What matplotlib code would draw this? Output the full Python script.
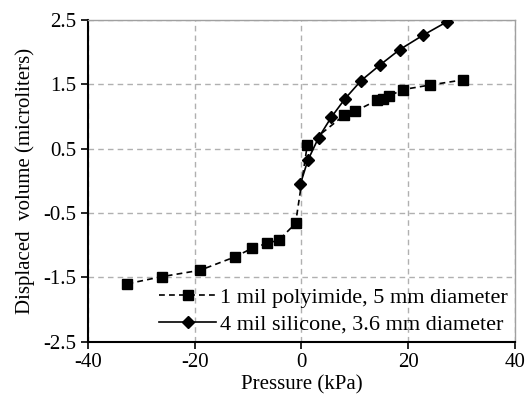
import matplotlib
matplotlib.use("Agg")
import matplotlib.pyplot as plt

# ── data ─────────────────────────────────────────────────────
poly_p = [-32.6, -26.2, -19.0, -12.4, -9.3, -6.4, -4.2, -1.1,
          1.1, 8.0, 10.0, 14.1, 15.2, 16.4, 19.1, 24.1, 30.3]
poly_v = [-1.60, -1.49, -1.39, -1.18, -1.05, -0.97, -0.92, -0.66,
          0.56, 1.02, 1.08, 1.25, 1.28, 1.32, 1.42, 1.49, 1.57]

sil_p = [-0.2, 1.2, 3.2, 5.6, 8.2, 11.2, 14.7, 18.4, 22.7, 27.2]
sil_v = [-0.05, 0.32, 0.67, 0.99, 1.28, 1.56, 1.80, 2.04, 2.26, 2.47]

poly_label = "1 mil polyimide, 5 mm diameter"
sil_label = "4 mil silicone, 3.6 mm diameter"

x_ticks = [-40, -20, 0, 20, 40]
y_ticks = [-2.5, -1.5, -0.5, 0.5, 1.5, 2.5]

plt.rcParams["font.family"] = ["Liberation Serif", "DejaVu Serif"]
plt.rcParams["axes.unicode_minus"] = False

fig = plt.figure(figsize=(5.27, 4.01), dpi=100)
ax = fig.add_axes([0.167, 0.148, 0.810, 0.802])

ax.plot(poly_p, poly_v, color="black", linestyle=(0, (3.5, 2.5)), linewidth=1.2,
        marker="s", markersize=6.5, label=poly_label, zorder=3)
ax.plot(sil_p, sil_v, color="black", linestyle="-", linewidth=1.2,
        marker="D", markersize=6.5, label=sil_label, zorder=4)

ax.set_xlim(-40, 40)
ax.set_ylim(-2.5, 2.5)
ax.set_xticks(x_ticks)
ax.set_yticks(y_ticks)
ax.set_yticklabels([f"{v:.1f}" for v in y_ticks])
ax.tick_params(direction="out", length=5, width=1.2, labelsize=15, colors="black")

ax.grid(True, color="#b0b0b0", linestyle=(0, (4, 3)), linewidth=1.0)
ax.set_axisbelow(True)

for side in ["top", "right"]:
    ax.spines[side].set_color("#a0a0a0")
    ax.spines[side].set_linewidth(1.0)
for side in ["left", "bottom"]:
    ax.spines[side].set_color("black")
    ax.spines[side].set_linewidth(1.5)

ax.set_xlabel("Pressure (kPa)", fontsize=15, labelpad=2)
ax.set_ylabel("Displaced  volume (microliters)", fontsize=15, labelpad=6)

ax.legend(loc="lower right", frameon=False, fontsize=16, handlelength=2.55,
          handletextpad=0.2, labelspacing=0.3, borderaxespad=0.1,
          borderpad=0.2)

plt.savefig("out.png", dpi=100)
